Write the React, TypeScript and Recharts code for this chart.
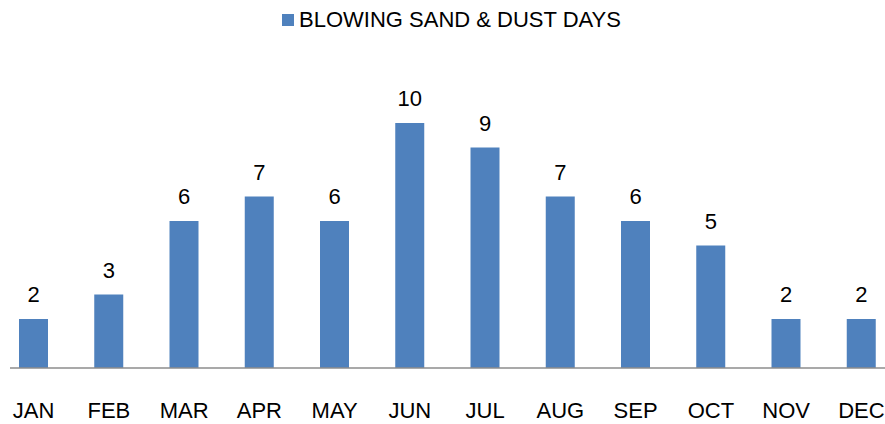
import React from 'react';
import { BarChart, Bar, XAxis, YAxis, Legend, LabelList } from 'recharts';

const months = ['JAN', 'FEB', 'MAR', 'APR', 'MAY', 'JUN', 'JUL', 'AUG', 'SEP', 'OCT', 'NOV', 'DEC'];
const dustDays = [2, 3, 6, 7, 6, 10, 9, 7, 6, 5, 2, 2];
const seriesName = 'BLOWING SAND & DUST DAYS';

const data = months.map((m, i) => ({ month: m, days: dustDays[i] }));

const FONT = '"Liberation Sans", Arial, sans-serif';
const BLUE = '#4F81BD';

const LegendContent = () => (
  <div style={{ display: 'flex', alignItems: 'center', justifyContent: 'center', fontFamily: FONT, fontSize: 22, lineHeight: '24px', color: '#000', height: 24 }}>
    <span style={{ display: 'inline-block', width: 12, height: 12, background: BLUE, marginRight: 5 }} />
    <span>{seriesName}</span>
  </div>
);

export default function App() {
  return (
    <div style={{ position: 'absolute', left: 0, top: 0, background: '#fff' }}>
      <BarChart
        width={885}
        height={424}
        data={data}
        margin={{ top: 99, right: 0, bottom: 0, left: 10 }}
        barCategoryGap={0}
      >
        <XAxis
          dataKey="month"
          padding={{ left: -14, right: -14 }}
          height={56}
          tickLine={false}
          axisLine={{ stroke: '#8c8c8c', strokeWidth: 1.5 }}
          tick={{ fill: '#000', fontSize: 22, fontFamily: FONT }}
          tickMargin={28}
          interval={0}
        />
        <YAxis hide domain={[0, 10]} />
        <Legend
          verticalAlign="top"
          content={<LegendContent />}
          wrapperStyle={{ top: 8, left: 9, width: 885 }}
        />
        <Bar dataKey="days" name={seriesName} fill={BLUE} barSize={29} isAnimationActive={false}>
          <LabelList dataKey="days" position="top" offset={17} fill="#000" fontSize={22} fontFamily={FONT} />
        </Bar>
      </BarChart>
    </div>
  );
}
